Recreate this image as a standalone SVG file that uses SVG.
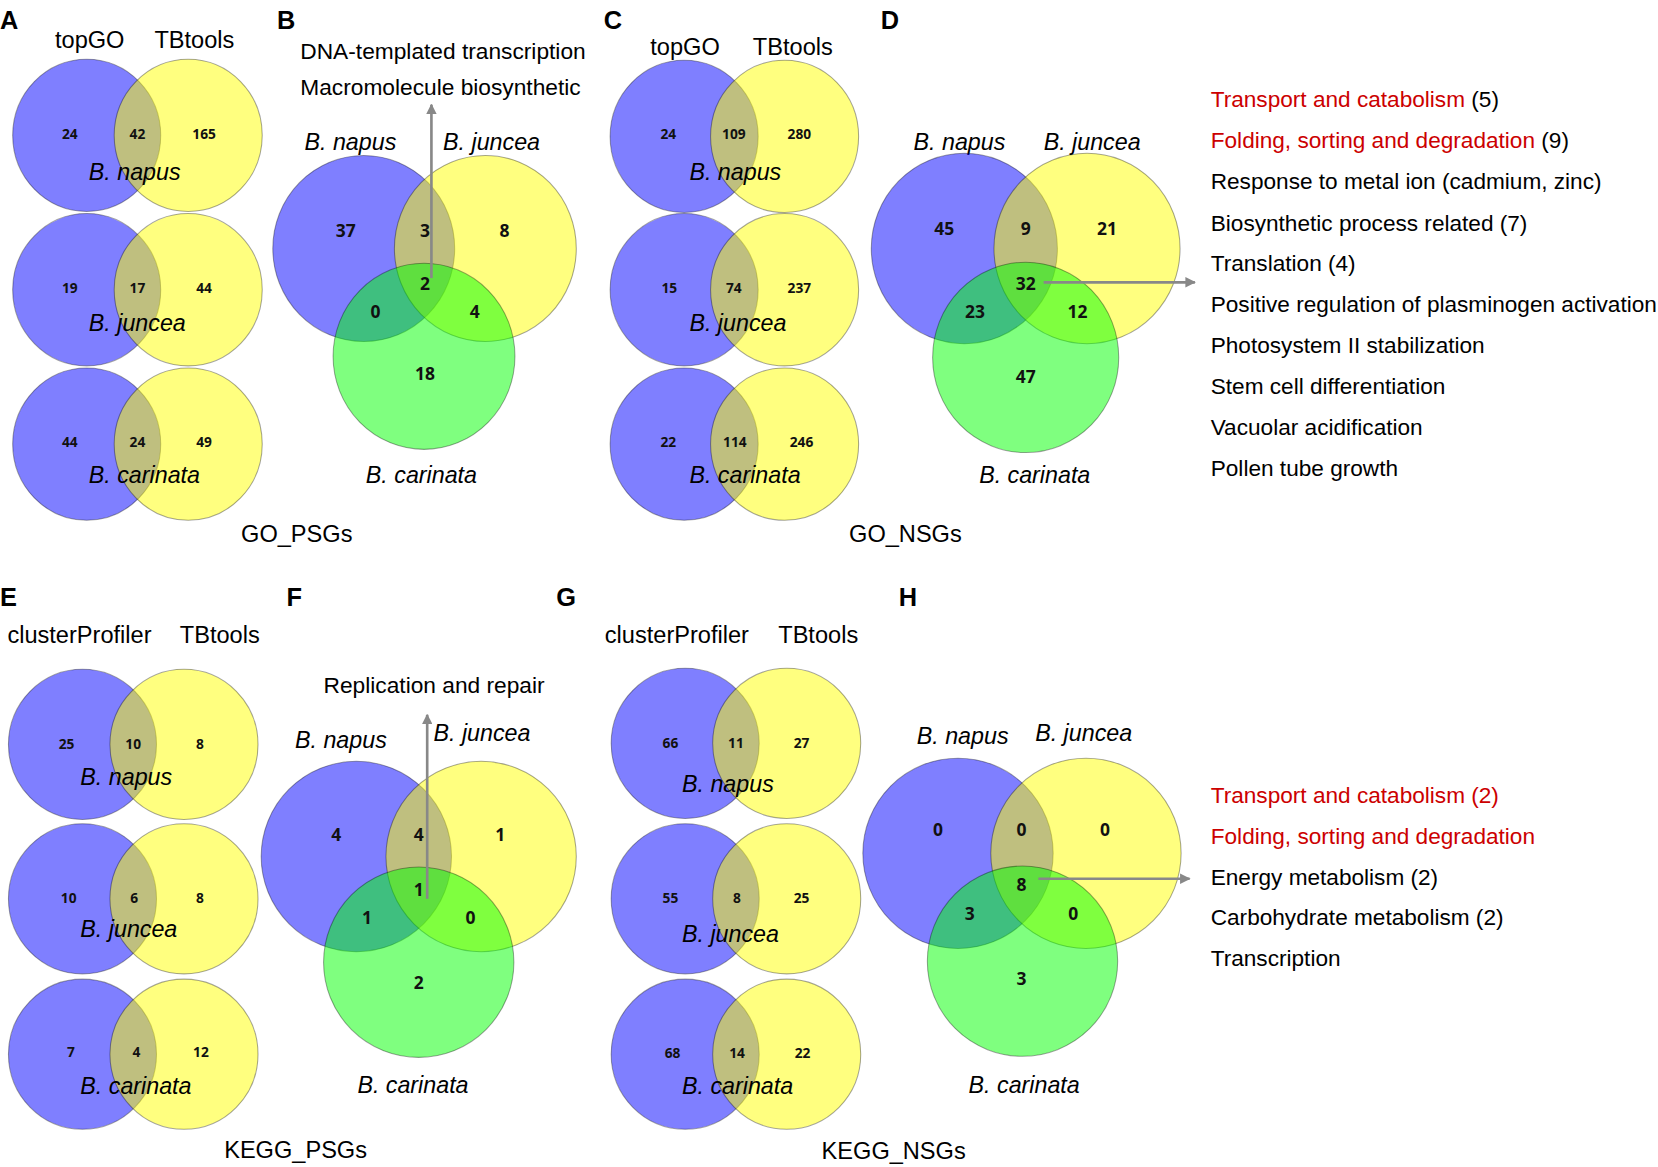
<svg xmlns="http://www.w3.org/2000/svg" width="1658" height="1167" viewBox="0 0 1658 1167">
<defs>
<style>
.bl{fill:#0000ff;fill-opacity:.5;stroke:#000;stroke-opacity:.35;stroke-width:1}
.ye{fill:#ffff00;fill-opacity:.5;stroke:#000;stroke-opacity:.35;stroke-width:1}
.gr{fill:#00ff00;fill-opacity:.5;stroke:#000;stroke-opacity:.35;stroke-width:1}
.t{font-family:"Liberation Sans",Arial,sans-serif;font-size:21.5px;fill:#000}
.h{font-family:"Liberation Sans",Arial,sans-serif;font-size:22.3px;fill:#000}
.sp{font-family:"Liberation Sans",Arial,sans-serif;font-size:22px;font-style:italic;fill:#000}
.lab{font-family:"Liberation Sans",Arial,sans-serif;font-size:24px;font-weight:bold;fill:#000}
.ns{font-family:"Open Sans","DejaVu Sans",sans-serif;font-size:13px;font-weight:bold;fill:#111;text-anchor:middle}
.nb{font-family:"Open Sans","DejaVu Sans",sans-serif;font-size:16.5px;font-weight:bold;fill:#111;text-anchor:middle}
.li{font-family:"Liberation Sans",Arial,sans-serif;font-size:21.4px;fill:#000}
.red{fill:#cc0000}
.arr{stroke:#888;stroke-width:2.5;fill:none}
</style>
<marker id="ah" viewBox="0 0 10 10" refX="9" refY="5" markerWidth="4" markerHeight="4" orient="auto" markerUnits="strokeWidth">
<path d="M0,0 L10,5 L0,10 z" fill="#888"/>
</marker>
</defs>
<rect width="1658" height="1167" fill="#fff"/>
<g transform="scale(1.0574)">

<!-- Panel labels -->
<text class="lab" x="0" y="27">A</text>
<text class="lab" x="262" y="27">B</text>
<text class="lab" x="571" y="27">C</text>
<text class="lab" x="833" y="27">D</text>
<text class="lab" x="0" y="573">E</text>
<text class="lab" x="271" y="573">F</text>
<text class="lab" x="526" y="573">G</text>
<text class="lab" x="850" y="573">H</text>

<!-- Panel A -->
<g id="panelA">
<text class="h" x="52" y="45">topGO</text>
<text class="h" x="146" y="45">TBtools</text>
<g id="A1">
<ellipse class="bl" cx="82" cy="128" rx="70" ry="72"/>
<ellipse class="ye" cx="178" cy="128" rx="70" ry="72"/>
<text class="ns" x="66" y="131">24</text><text class="ns" x="130" y="131">42</text><text class="ns" x="193" y="131">165</text>
<text class="sp" x="84" y="170">B. napus</text>
</g>
<g id="A2">
<ellipse class="bl" cx="82" cy="274" rx="70" ry="72"/>
<ellipse class="ye" cx="178" cy="274" rx="70" ry="72"/>
<text class="ns" x="66" y="277">19</text><text class="ns" x="130" y="277">17</text><text class="ns" x="193" y="277">44</text>
<text class="sp" x="84" y="313">B. juncea</text>
</g>
<g id="A3">
<ellipse class="bl" cx="82" cy="420" rx="70" ry="72"/>
<ellipse class="ye" cx="178" cy="420" rx="70" ry="72"/>
<text class="ns" x="66" y="423">44</text><text class="ns" x="130" y="423">24</text><text class="ns" x="193" y="423">49</text>
<text class="sp" x="84" y="457">B. carinata</text>
</g>
<text class="h" x="228" y="513">GO_PSGs</text>
</g>

<!-- Panel B -->
<g id="panelB">
<text class="t" x="284" y="56">DNA-templated transcription</text>
<text class="t" x="284" y="90">Macromolecule biosynthetic</text>
<text class="sp" x="288" y="142">B. napus</text>
<text class="sp" x="419" y="142">B. juncea</text>
<ellipse class="bl" cx="344" cy="235" rx="86" ry="88"/>
<ellipse class="ye" cx="459" cy="235" rx="86" ry="88"/>
<ellipse class="gr" cx="401" cy="337" rx="86" ry="88"/>
<text class="nb" x="327" y="224">37</text><text class="nb" x="402" y="224">3</text><text class="nb" x="477" y="224">8</text>
<text class="nb" x="402" y="274">2</text><text class="nb" x="355" y="301">0</text><text class="nb" x="449" y="301">4</text>
<text class="nb" x="402" y="359">18</text>
<text class="sp" x="346" y="457">B. carinata</text>
</g>

<!-- Panel C -->
<g id="panelC">
<text class="h" x="615" y="52">topGO</text>
<text class="h" x="712" y="52">TBtools</text>
<g id="C1">
<ellipse class="bl" cx="647" cy="129" rx="70" ry="72"/>
<ellipse class="ye" cx="742" cy="129" rx="70" ry="72"/>
<text class="ns" x="632" y="131">24</text><text class="ns" x="694" y="131">109</text><text class="ns" x="756" y="131">280</text>
<text class="sp" x="652" y="170">B. napus</text>
</g>
<g id="C2">
<ellipse class="bl" cx="647" cy="274" rx="70" ry="72"/>
<ellipse class="ye" cx="742" cy="274" rx="70" ry="72"/>
<text class="ns" x="633" y="277">15</text><text class="ns" x="694" y="277">74</text><text class="ns" x="756" y="277">237</text>
<text class="sp" x="652" y="313">B. juncea</text>
</g>
<g id="C3">
<ellipse class="bl" cx="647" cy="420" rx="70" ry="72"/>
<ellipse class="ye" cx="742" cy="420" rx="70" ry="72"/>
<text class="ns" x="632" y="423">22</text><text class="ns" x="695" y="423">114</text><text class="ns" x="758" y="423">246</text>
<text class="sp" x="652" y="457">B. carinata</text>
</g>
<text class="h" x="803" y="513">GO_NSGs</text>
</g>

<!-- Panel D -->
<g id="panelD">
<text class="sp" x="864" y="142">B. napus</text>
<text class="sp" x="987" y="142">B. juncea</text>
<ellipse class="bl" cx="912" cy="235" rx="88" ry="90"/>
<ellipse class="ye" cx="1028" cy="235" rx="88" ry="90"/>
<ellipse class="gr" cx="970" cy="338" rx="88" ry="90"/>
<text class="nb" x="893" y="222">45</text><text class="nb" x="970" y="222">9</text><text class="nb" x="1047" y="222">21</text>
<text class="nb" x="970" y="274">32</text><text class="nb" x="922" y="301">23</text><text class="nb" x="1019" y="301">12</text>
<text class="nb" x="970" y="362">47</text>
<text class="sp" x="926" y="457">B. carinata</text>
<g id="listD">
<text class="li" x="1145" y="101"><tspan class="red">Transport and catabolism</tspan> (5)</text>
<text class="li" x="1145" y="140"><tspan class="red">Folding, sorting and degradation</tspan> (9)</text>
<text class="li" x="1145" y="179">Response to metal ion (cadmium, zinc)</text>
<text class="li" x="1145" y="218">Biosynthetic process related (7)</text>
<text class="li" x="1145" y="256">Translation (4)</text>
<text class="li" x="1145" y="295">Positive regulation of plasminogen activation</text>
<text class="li" x="1145" y="334">Photosystem II stabilization</text>
<text class="li" x="1145" y="373">Stem cell differentiation</text>
<text class="li" x="1145" y="411">Vacuolar acidification</text>
<text class="li" x="1145" y="450">Pollen tube growth</text>
</g>
</g>

<!-- Panel E -->
<g id="panelE">
<text class="h" x="7" y="608">clusterProfiler</text>
<text class="h" x="170" y="608">TBtools</text>
<g id="E1">
<ellipse class="bl" cx="78" cy="704" rx="70" ry="71"/>
<ellipse class="ye" cx="174" cy="704" rx="70" ry="71"/>
<text class="ns" x="63" y="708">25</text><text class="ns" x="126" y="708">10</text><text class="ns" x="189" y="708">8</text>
<text class="sp" x="76" y="742">B. napus</text>
</g>
<g id="E2">
<ellipse class="bl" cx="78" cy="850" rx="70" ry="71"/>
<ellipse class="ye" cx="174" cy="850" rx="70" ry="71"/>
<text class="ns" x="65" y="854">10</text><text class="ns" x="127" y="854">6</text><text class="ns" x="189" y="854">8</text>
<text class="sp" x="76" y="886">B. juncea</text>
</g>
<g id="E3">
<ellipse class="bl" cx="78" cy="997" rx="70" ry="71"/>
<ellipse class="ye" cx="174" cy="997" rx="70" ry="71"/>
<text class="ns" x="67" y="1000">7</text><text class="ns" x="129" y="1000">4</text><text class="ns" x="190" y="1000">12</text>
<text class="sp" x="76" y="1035">B. carinata</text>
</g>
<text class="h" x="212" y="1095">KEGG_PSGs</text>
</g>

<!-- Panel F -->
<g id="panelF">
<text class="t" x="306" y="655">Replication and repair</text>
<text class="sp" x="279" y="707">B. napus</text>
<text class="sp" x="410" y="701">B. juncea</text>
<ellipse class="bl" cx="337" cy="810" rx="90" ry="90"/>
<ellipse class="ye" cx="455" cy="810" rx="90" ry="90"/>
<ellipse class="gr" cx="396" cy="910" rx="90" ry="90"/>
<text class="nb" x="318" y="795">4</text><text class="nb" x="396" y="795">4</text><text class="nb" x="473" y="795">1</text>
<text class="nb" x="396" y="847">1</text><text class="nb" x="347" y="874">1</text><text class="nb" x="445" y="874">0</text>
<text class="nb" x="396" y="935">2</text>
<text class="sp" x="338" y="1034">B. carinata</text>
</g>

<!-- Panel G -->
<g id="panelG">
<text class="h" x="572" y="608">clusterProfiler</text>
<text class="h" x="736" y="608">TBtools</text>
<g id="G1">
<ellipse class="bl" cx="648" cy="703" rx="70" ry="71"/>
<ellipse class="ye" cx="744" cy="703" rx="70" ry="71"/>
<text class="ns" x="634" y="707">66</text><text class="ns" x="696" y="707">11</text><text class="ns" x="758" y="707">27</text>
<text class="sp" x="645" y="749">B. napus</text>
</g>
<g id="G2">
<ellipse class="bl" cx="648" cy="850" rx="70" ry="71"/>
<ellipse class="ye" cx="744" cy="850" rx="70" ry="71"/>
<text class="ns" x="634" y="854">55</text><text class="ns" x="697" y="854">8</text><text class="ns" x="758" y="854">25</text>
<text class="sp" x="645" y="891">B. juncea</text>
</g>
<g id="G3">
<ellipse class="bl" cx="648" cy="997" rx="70" ry="71"/>
<ellipse class="ye" cx="744" cy="997" rx="70" ry="71"/>
<text class="ns" x="636" y="1001">68</text><text class="ns" x="697" y="1001">14</text><text class="ns" x="759" y="1001">22</text>
<text class="sp" x="645" y="1035">B. carinata</text>
</g>
<text class="h" x="777" y="1096">KEGG_NSGs</text>
</g>

<!-- Panel H -->
<g id="panelH">
<text class="sp" x="867" y="704">B. napus</text>
<text class="sp" x="979" y="701">B. juncea</text>
<ellipse class="bl" cx="906" cy="807" rx="90" ry="90"/>
<ellipse class="ye" cx="1027" cy="807" rx="90" ry="90"/>
<ellipse class="gr" cx="967" cy="909" rx="90" ry="90"/>
<text class="nb" x="887" y="791">0</text><text class="nb" x="966" y="791">0</text><text class="nb" x="1045" y="791">0</text>
<text class="nb" x="966" y="843">8</text><text class="nb" x="917" y="870">3</text><text class="nb" x="1015" y="870">0</text>
<text class="nb" x="966" y="932">3</text>
<text class="sp" x="916" y="1034">B. carinata</text>
<g id="listH">
<text class="li red" x="1145" y="759">Transport and catabolism (2)</text>
<text class="li red" x="1145" y="798">Folding, sorting and degradation</text>
<text class="li" x="1145" y="837">Energy metabolism (2)</text>
<text class="li" x="1145" y="875">Carbohydrate metabolism (2)</text>
<text class="li" x="1145" y="914">Transcription</text>
</g>
</g>

<!-- Connectors -->
<g id="connectors">
<line class="arr" x1="408" y1="263" x2="408" y2="99" marker-end="url(#ah)"/>
<line class="arr" x1="987" y1="267" x2="1130" y2="267" marker-end="url(#ah)"/>
<line class="arr" x1="404" y1="850" x2="404" y2="676" marker-end="url(#ah)"/>
<line class="arr" x1="982" y1="831" x2="1125" y2="831" marker-end="url(#ah)"/>
</g>

</g>
</svg>
